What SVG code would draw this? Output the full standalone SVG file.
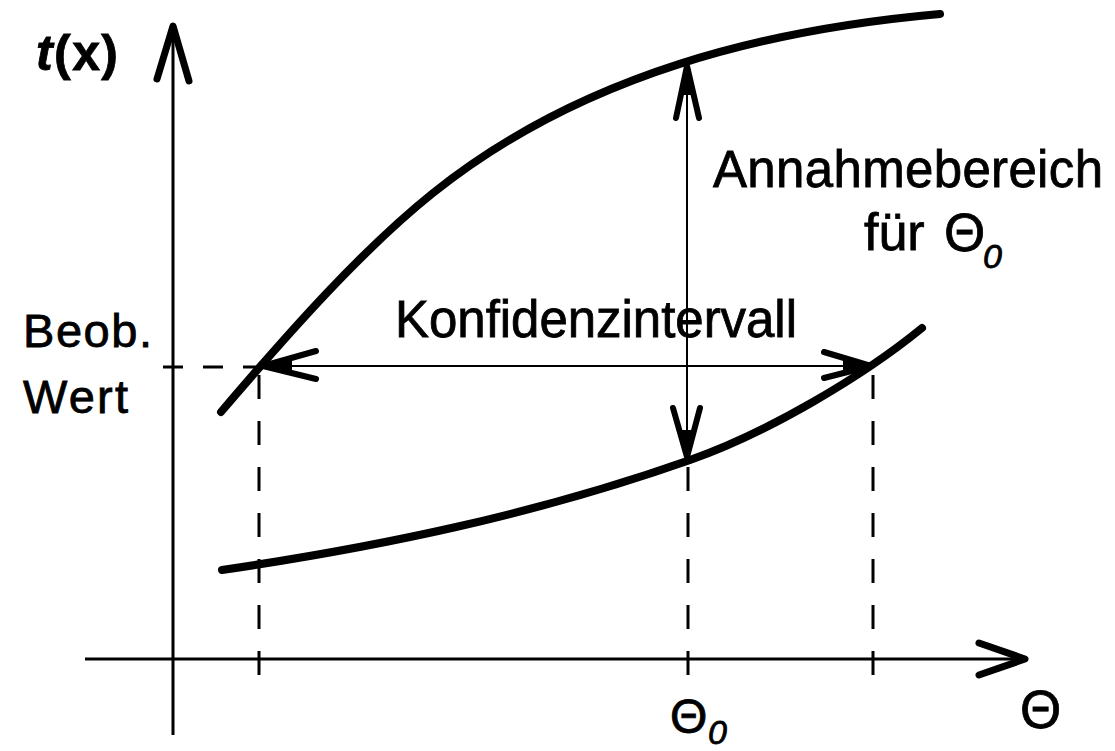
<svg xmlns="http://www.w3.org/2000/svg" width="1115" height="751" viewBox="0 0 1115 751">
<style>
.axis{stroke:#000;stroke-width:3;fill:none}
.curve{stroke:#000;stroke-width:8;fill:none;stroke-linecap:round}
.dash{stroke:#000;stroke-width:3;fill:none;stroke-dasharray:24 22}
.thin{stroke:#000;stroke-width:2;fill:none}
.head{stroke:#000;stroke-width:6;fill:none;stroke-linecap:round;stroke-linejoin:round}
.txt{font-family:"Liberation Sans",Arial,sans-serif;fill:#000;stroke:#000;stroke-width:0.8}
</style>
<rect width="1115" height="751" fill="#fff"/>
<g id="axes">
<line class="axis" x1="173" y1="30" x2="173" y2="735"/>
<polyline class="head" points="157,79 173,26 189,81" style="stroke-width:7"/>
<line class="axis" x1="85" y1="659" x2="1022" y2="659"/>
<polyline class="head" points="979,643 1025,659 979,675" style="stroke-width:7"/>
</g>
<g id="curves">
<path id="upper-curve" class="curve" d="M221,412 C291,330 363,249 433,193 C583,73 770,29 940,14"/>
<path id="lower-curve" class="curve" d="M222,570 C378,547 534,515 690,460 C767,433 862,377 922,328"/>
</g>
<g id="guides">
<line class="dash" x1="163" y1="367" x2="258" y2="367" style="stroke-dasharray:20 20"/>
<line class="dash" x1="259" y1="675" x2="259" y2="370"/>
<line class="dash" x1="688" y1="675" x2="688" y2="462"/>
<line class="dash" x1="873" y1="675" x2="873" y2="370"/>
</g>
<g id="connectors">
<g id="konfidenz-arrow">
<line class="thin" x1="266" y1="366" x2="868" y2="366"/>
<polyline class="head" points="316,351 263,366 316,379"/>
<polygon points="263,366 292,357 292,375" fill="#000"/>
<polyline class="head" points="824,352 871,366 824,378"/>
<polygon points="871,366 843,357 843,375" fill="#000"/>
</g>
<g id="annahme-arrow">
<line class="thin" x1="687" y1="68" x2="687" y2="455"/>
<polyline class="head" points="676,118 687,66 699,118"/>
<polygon points="687,66 680,95 694,95" fill="#000"/>
<polyline class="head" points="673,408 687,457 700,408"/>
<polygon points="687,457 680,430 694,430" fill="#000"/>
</g>
</g>
<g id="labels">
<text class="txt" x="36" y="70" font-size="50" font-weight="bold" textLength="82" lengthAdjust="spacing"><tspan font-style="italic">t</tspan>(x)</text>
<text id="annahme" class="txt" x="713" y="187" font-size="51" textLength="390" lengthAdjust="spacing">Annahmebereich</text>
<text class="txt" x="864" y="250" font-size="52">für</text>
<text class="txt" x="944" y="251" font-size="53">Θ</text>
<text class="txt" x="983" y="268" font-size="34" font-style="italic">0</text>
<text id="konfidenz" class="txt" x="395" y="337" font-size="51" textLength="402" lengthAdjust="spacing">Konfidenzintervall</text>
<text class="txt" x="23" y="347" font-size="47" textLength="129" lengthAdjust="spacing">Beob.</text>
<text class="txt" x="23" y="413" font-size="47" textLength="105" lengthAdjust="spacing">Wert</text>
<text class="txt" x="670" y="733" font-size="48">Θ</text>
<text class="txt" x="708" y="744" font-size="34" font-style="italic">0</text>
<text class="txt" x="1020" y="728" font-size="53">Θ</text>
</g>
</svg>
